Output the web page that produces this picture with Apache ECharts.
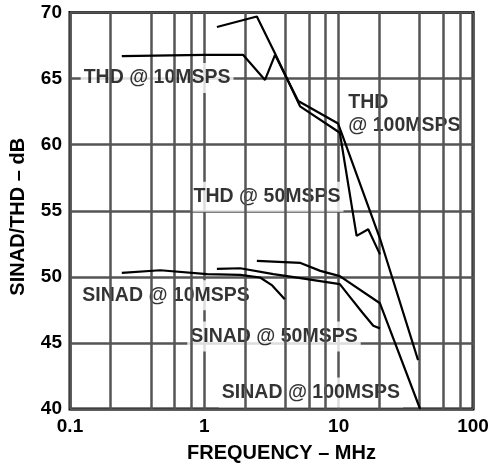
<!DOCTYPE html>
<html>
<head>
<meta charset="utf-8">
<script src="https://cdn.jsdelivr.net/npm/echarts@6/dist/echarts.min.js"></script>
<style>html,body{margin:0;padding:0;background:#fff;}#c{width:492px;height:468px;}</style>
</head>
<body>
<div id="c"></div>
<script>
// ---- data (frequency MHz, dB) ----
const xTickValues = [0.1, 1, 10, 100];
const yTickValues = [40, 45, 50, 55, 60, 65, 70];
const minorGridValues = [0.2, 0.4, 0.6, 0.8, 2, 4, 6, 8, 20, 40, 60, 80];

const thd10 = [[0.243, 66.7], [1.0, 66.8], [1.94, 66.8], [2.83, 64.9], [3.36, 66.8]];
const thd50 = [[1.24, 68.9], [2.46, 69.7], [3.36, 66.9], [5.16, 62.9], [10.2, 60.9], [13.6, 53.1], [16.6, 53.6], [20.3, 51.7]];
const thd100 = [[3.36, 66.8], [5.0, 63.3], [9.9, 61.6], [10.5, 60.9], [20.3, 52.9], [39, 43.7]];
const sinad10 = [[0.243, 50.3], [0.47, 50.5], [1.05, 50.2], [1.85, 50.15], [2.6, 49.95], [3.2, 49.35], [3.97, 48.3]];
const sinad50 = [[1.24, 50.6], [1.85, 50.65], [3.27, 50.2], [5.2, 49.9], [10.2, 49.45], [12.2, 48.45], [15, 47.3], [18.1, 46.3], [20.3, 46.1]];
const sinad100 = [[2.46, 51.2], [5.2, 51.05], [7.3, 50.45], [10.2, 50.05], [20.3, 48.0], [40.4, 40.0]];

const annotationTexts = ['THD @ 10MSPS', 'THD\n@ 100MSPS', 'THD @ 50MSPS', 'SINAD @ 10MSPS', 'SINAD @ 50MSPS', 'SINAD @ 100MSPS'];
const annotationPos = [[0.445, 65.05], [11.2, 62.3], [2.93, 56.05], [0.519, 48.6], [3.30, 45.48], [6.22, 41.25]];
const annotationAlign = ['center', 'left', 'center', 'center', 'center', 'center'];

const FONT = "'Liberation Sans', Arial, sans-serif";
const chart = echarts.init(document.getElementById('c'), null, {renderer: 'canvas'});

function curve(name, data) {
  return {
    name: name, type: 'line', data: data, z: 5,
    symbol: 'none', smooth: false,
    lineStyle: {color: '#000', width: 2.2},
    silent: true, animation: false
  };
}

const option = {
  animation: false,
  backgroundColor: '#fff',
  grid: {left: 70, right: 19, top: 12.5, bottom: 55.3, show: true, borderColor: '#000', borderWidth: 3, backgroundColor: 'transparent'},
  xAxis: {
    type: 'log', logBase: 10, min: 0.1, max: 100,
    name: 'FREQUENCY – MHz', nameLocation: 'middle', nameGap: 34,
    nameTextStyle: {fontFamily: FONT, fontWeight: 'bold', fontSize: 20, color: '#000', padding: [0, 0, 0, 20]},
    axisLine: {show: false}, axisTick: {show: false},
    axisLabel: {fontFamily: FONT, fontWeight: 'bold', fontSize: 19, color: '#000', margin: 8,
      formatter: v => { const t = xTickValues.find(a => Math.abs(a - v) / a < 1e-6); return t === undefined ? '' : String(t); }},
    splitLine: {show: true, lineStyle: {color: '#555', width: 2.5}}
  },
  yAxis: {
    type: 'value', min: 40, max: 70, interval: 5,
    name: 'SINAD/THD – dB', nameLocation: 'middle', nameGap: 42, nameRotate: 90,
    nameTextStyle: {fontFamily: FONT, fontWeight: 'bold', fontSize: 20, color: '#000', padding: [0, 12, 0, 0]},
    axisLine: {show: false}, axisTick: {show: false},
    axisLabel: {fontFamily: FONT, fontWeight: 'bold', fontSize: 19, color: '#000', margin: 8,
      formatter: v => yTickValues.includes(v) ? String(v) : ''},
    splitLine: {show: true, lineStyle: {color: '#555', width: 2.5}}
  },
  series: [
    {
      name: 'minorGrid', type: 'line', data: [], z: 1, silent: true,
      markLine: {
        silent: true, symbol: ['none', 'none'], animation: false,
        label: {show: false},
        lineStyle: {color: '#555', width: 2.5, type: 'solid'},
        data: minorGridValues.map(v => ({xAxis: v}))
      }
    },
    {
      name: 'labels', type: 'scatter', z: 2, symbolSize: 0, silent: true,
      data: annotationTexts.map((t, i) => ({
        value: annotationPos[i],
        label: {
          show: true, position: 'inside', formatter: t, align: annotationAlign[i], verticalAlign: 'middle',
          fontFamily: FONT, fontWeight: 'bold', fontSize: 19.5, lineHeight: 23, color: '#000',
          backgroundColor: '#fff', padding: [4, 3, 3, 3]
        }
      }))
    },
    curve('THD @ 10MSPS', thd10),
    curve('THD @ 50MSPS', thd50),
    curve('THD @ 100MSPS', thd100),
    curve('SINAD @ 10MSPS', sinad10),
    curve('SINAD @ 50MSPS', sinad50),
    curve('SINAD @ 100MSPS', sinad100)
  ]
};
chart.setOption(option);
</script>
</body>
</html>
